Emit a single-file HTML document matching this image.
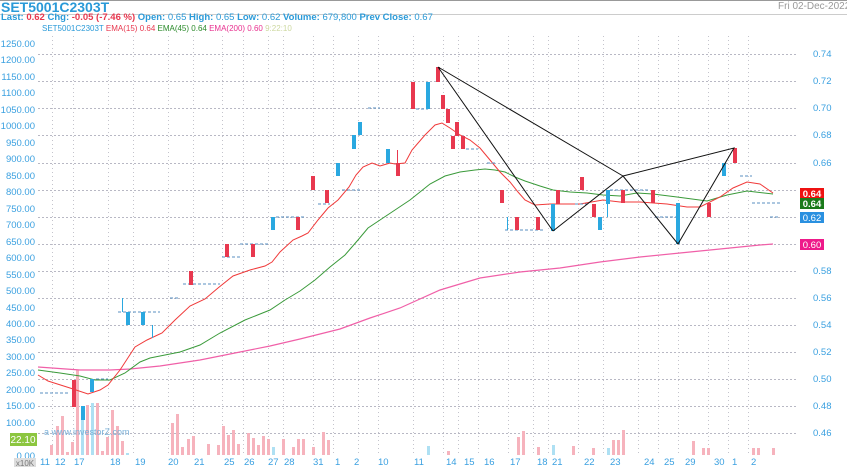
<!DOCTYPE html>
<html><head><meta charset="utf-8"><style>
body{margin:0;background:#fff;width:847px;height:467px;overflow:hidden;font-family:"Liberation Sans",sans-serif}
svg{position:absolute;left:0;top:0}
</style></head><body>
<svg width="847" height="467" xmlns="http://www.w3.org/2000/svg" font-family="Liberation Sans, sans-serif">
<line x1="0" y1="0.5" x2="847" y2="0.5" stroke="#999"/>
<text x="1" y="12" font-size="14" fill="#2a9ad8" font-weight="bold">SET5001C2303T</text>
<text x="778" y="9" font-size="10" fill="#999">Fri 02-Dec-2022 16:0</text>
<line x1="0" y1="14.5" x2="847" y2="14.5" stroke="#ccc"/>
<text x="1" y="20" font-size="9.5" font-weight="bold"><tspan fill="#2a9ad8">Last: </tspan><tspan fill="#e8384f">0.62 </tspan><tspan fill="#2a9ad8">Chg: </tspan><tspan fill="#e8384f">-0.05 (-7.46 %)</tspan><tspan fill="#2a9ad8">  Open: </tspan><tspan fill="#2a9ad8" font-weight="normal">0.65 </tspan><tspan fill="#2a9ad8">High: </tspan><tspan fill="#2a9ad8" font-weight="normal">0.65 </tspan><tspan fill="#2a9ad8">Low: </tspan><tspan fill="#2a9ad8" font-weight="normal">0.62 </tspan><tspan fill="#2a9ad8">Volume: </tspan><tspan fill="#2a9ad8" font-weight="normal">679,800  </tspan><tspan fill="#2a9ad8">Prev Close: </tspan><tspan fill="#2a9ad8" font-weight="normal">0.67</tspan></text>
<text x="42" y="31" font-size="8"><tspan fill="#2a9ad8">SET5001C2303T  </tspan><tspan fill="#e8384f">EMA(15)  0.64  </tspan><tspan fill="#2a8a2a">EMA(45)  0.64  </tspan><tspan fill="#e8308f">EMA(200)  0.60  </tspan><tspan fill="#cdd8a0">9:22:10</tspan></text>
<g stroke="#b8b8c4" stroke-dasharray="2,2" stroke-width="1">
<line x1="38" y1="54.5" x2="797" y2="54.5"/><line x1="38" y1="81.5" x2="797" y2="81.5"/><line x1="38" y1="108.5" x2="797" y2="108.5"/><line x1="38" y1="135.5" x2="797" y2="135.5"/><line x1="38" y1="163.5" x2="797" y2="163.5"/><line x1="38" y1="190.5" x2="797" y2="190.5"/><line x1="38" y1="217.5" x2="797" y2="217.5"/><line x1="38" y1="244.5" x2="797" y2="244.5"/><line x1="38" y1="271.5" x2="797" y2="271.5"/><line x1="38" y1="298.5" x2="797" y2="298.5"/><line x1="38" y1="325.5" x2="797" y2="325.5"/><line x1="38" y1="352.5" x2="797" y2="352.5"/><line x1="38" y1="379.5" x2="797" y2="379.5"/><line x1="38" y1="406.5" x2="797" y2="406.5"/><line x1="38" y1="433.5" x2="797" y2="433.5"/>
</g>
<g stroke="#c4c4cc" stroke-dasharray="1,3" stroke-width="1">
<line x1="52.5" y1="36" x2="52.5" y2="455"/><line x1="73.5" y1="36" x2="73.5" y2="455"/><line x1="108.5" y1="36" x2="108.5" y2="455"/><line x1="133.5" y1="36" x2="133.5" y2="455"/><line x1="168.5" y1="36" x2="168.5" y2="455"/><line x1="193.5" y1="36" x2="193.5" y2="455"/><line x1="222.5" y1="36" x2="222.5" y2="455"/><line x1="243.5" y1="36" x2="243.5" y2="455"/><line x1="268.5" y1="36" x2="268.5" y2="455"/><line x1="283.5" y1="36" x2="283.5" y2="455"/><line x1="313.5" y1="36" x2="313.5" y2="455"/><line x1="333.5" y1="36" x2="333.5" y2="455"/><line x1="358.5" y1="36" x2="358.5" y2="455"/><line x1="378.5" y1="36" x2="378.5" y2="455"/><line x1="413.5" y1="36" x2="413.5" y2="455"/><line x1="443.5" y1="36" x2="443.5" y2="455"/><line x1="458.5" y1="36" x2="458.5" y2="455"/><line x1="478.5" y1="36" x2="478.5" y2="455"/><line x1="508.5" y1="36" x2="508.5" y2="455"/><line x1="533.5" y1="36" x2="533.5" y2="455"/><line x1="548.5" y1="36" x2="548.5" y2="455"/><line x1="578.5" y1="36" x2="578.5" y2="455"/><line x1="603.5" y1="36" x2="603.5" y2="455"/><line x1="638.5" y1="36" x2="638.5" y2="455"/><line x1="658.5" y1="36" x2="658.5" y2="455"/><line x1="678.5" y1="36" x2="678.5" y2="455"/><line x1="708.5" y1="36" x2="708.5" y2="455"/><line x1="728.5" y1="36" x2="728.5" y2="455"/><line x1="748.5" y1="36" x2="748.5" y2="455"/>
</g>
<g fill="#f6b3bd">
<rect x="50" y="445" width="3" height="10"/><rect x="56" y="426" width="3" height="29"/><rect x="61" y="416" width="3" height="39"/><rect x="66" y="452" width="3" height="3"/><rect x="71" y="442" width="3" height="13"/><rect x="76" y="370" width="3" height="85"/><rect x="86" y="405" width="3" height="50"/><rect x="96" y="403" width="3" height="52"/><rect x="101" y="451" width="3" height="4"/><rect x="106" y="437" width="3" height="18"/><rect x="111" y="410" width="3" height="45"/><rect x="116" y="426" width="3" height="29"/><rect x="121" y="441" width="3" height="14"/>
<rect x="171" y="423" width="3" height="32"/><rect x="176" y="414" width="3" height="41"/><rect x="181" y="447" width="3" height="8"/><rect x="187" y="439" width="3" height="16"/><rect x="192" y="436" width="3" height="19"/><rect x="207" y="444" width="3" height="11"/><rect x="217" y="445" width="3" height="10"/><rect x="222" y="426" width="3" height="29"/><rect x="227" y="435" width="3" height="20"/><rect x="232" y="430" width="3" height="25"/><rect x="237" y="444" width="3" height="11"/><rect x="247" y="433" width="3" height="22"/><rect x="252" y="438" width="3" height="17"/><rect x="257" y="445" width="3" height="10"/><rect x="262" y="436" width="3" height="19"/><rect x="267" y="439" width="3" height="16"/><rect x="282" y="439" width="3" height="16"/><rect x="292" y="447" width="3" height="8"/><rect x="297" y="439" width="3" height="16"/><rect x="302" y="439" width="3" height="16"/><rect x="312" y="447" width="3" height="8"/><rect x="322" y="432" width="3" height="23"/><rect x="327" y="440" width="3" height="15"/>
<rect x="447" y="451" width="3" height="4"/><rect x="517" y="437" width="3" height="18"/><rect x="522" y="431" width="3" height="24"/><rect x="537" y="447" width="3" height="8"/><rect x="572" y="446" width="3" height="9"/><rect x="592" y="448" width="3" height="7"/><rect x="612" y="440" width="3" height="15"/><rect x="617" y="440" width="3" height="15"/><rect x="622" y="430" width="3" height="25"/><rect x="692" y="441" width="3" height="14"/><rect x="702" y="448" width="3" height="7"/><rect x="707" y="448" width="3" height="7"/><rect x="752" y="448" width="3" height="7"/><rect x="757" y="448" width="3" height="7"/><rect x="772" y="448" width="3" height="7"/>
</g>
<g fill="#aee0f3">
<rect x="81" y="420" width="3" height="35"/><rect x="91" y="403" width="3" height="52"/><rect x="126" y="453" width="3" height="2"/><rect x="272" y="447" width="3" height="8"/><rect x="427" y="446" width="3" height="9"/><rect x="552" y="445" width="3" height="10"/><rect x="607" y="448" width="3" height="7"/>
</g>
<polyline fill="none" stroke="#f060a8" stroke-width="1.2" points="38,367 80,370 110,370 130,369 160,366 200,360 225,355 270,346 300,339 340,329 370,318 400,308 440,290 480,278 520,272 560,268 600,262 640,257 680,253 720,249 760,245 773,244"/>
<polyline fill="none" stroke="#3a9a3a" stroke-width="1" points="38,370 60,373 80,376 95,380 110,380 125,373 140,362 150,358 165,355 180,352 200,345 220,333 245,320 270,310 285,300 300,291 315,280 330,267 345,255 358,240 368,228 380,220 395,210 410,200 420,192 430,184 445,176 460,172 475,170 485,169 495,170 505,172 515,177 525,181 540,186 553,190 570,192 587,193 603,195 620,196 637,193 653,194 677,197 707,201 727,195 747,191 773,194"/>
<polyline fill="none" stroke="#f03a3a" stroke-width="1" points="38,375 48,381 70,388 88,394 100,390 108,385 120,370 135,347 147,340 162,333 175,320 190,306 205,299 218,288 233,276 250,270 265,266 272,262 280,252 293,240 302,236 308,233 318,220 328,208 338,200 349,187 356,175 363,167 372,163 380,166 390,163 395,164 405,163 412,150 425,135 435,125 442,123 450,128 460,135 470,140 480,148 490,160 500,172 510,182 518,192 525,200 535,205 550,204 580,204 603,200 620,202 640,202 667,204 687,207 700,207 720,197 733,188 747,182 760,184 773,193"/>
<g stroke="#5a8fc0" stroke-width="1" stroke-dasharray="3,2">
<line x1="40" y1="393" x2="68" y2="393"/><line x1="96" y1="379" x2="108" y2="379"/><line x1="118" y1="312" x2="140" y2="312"/><line x1="138" y1="312" x2="160" y2="312"/><line x1="170" y1="298" x2="180" y2="298"/><line x1="183" y1="284" x2="220" y2="284"/><line x1="222" y1="257" x2="242" y2="257"/><line x1="240" y1="244" x2="268" y2="244"/><line x1="276" y1="217" x2="305" y2="217"/><line x1="318" y1="204" x2="330" y2="204"/><line x1="342" y1="190" x2="360" y2="190"/><line x1="368" y1="108" x2="380" y2="108"/><line x1="416" y1="109" x2="428" y2="109"/><line x1="466" y1="149" x2="478" y2="149"/><line x1="487" y1="163" x2="496" y2="163"/><line x1="505" y1="230" x2="545" y2="230"/><line x1="575" y1="204" x2="590" y2="204"/><line x1="610" y1="190" x2="650" y2="190"/><line x1="655" y1="217" x2="680" y2="217"/><line x1="740" y1="176" x2="752" y2="176"/><line x1="752" y1="203" x2="780" y2="203"/><line x1="770" y1="217" x2="778" y2="217"/>
</g>
<g fill="#e8384f">
<rect x="72" y="380" width="4" height="27"/><rect x="189" y="271" width="4" height="14"/><rect x="225" y="244" width="4" height="13"/><rect x="251" y="244" width="4" height="13"/><rect x="296" y="217" width="4" height="13"/><rect x="311" y="176" width="4" height="14"/><rect x="325" y="190" width="4" height="13"/><rect x="396" y="163" width="4" height="13"/><rect x="397" y="150" width="1" height="26"/>
<rect x="411" y="82" width="4" height="27"/><rect x="436" y="67" width="4" height="15"/><rect x="441" y="95" width="4" height="14"/><rect x="446" y="109" width="4" height="14"/><rect x="451" y="136" width="4" height="13"/><rect x="455" y="122" width="4" height="14"/><rect x="461" y="136" width="4" height="13"/><rect x="500" y="190" width="4" height="13"/><rect x="515" y="217" width="4" height="13"/><rect x="536" y="217" width="4" height="13"/><rect x="556" y="190" width="4" height="14"/><rect x="580" y="177" width="4" height="13"/><rect x="592" y="204" width="4" height="13"/><rect x="621" y="190" width="4" height="13"/><rect x="651" y="190" width="4" height="13"/><rect x="707" y="203" width="4" height="14"/><rect x="733" y="148" width="4" height="15"/>
</g>
<g fill="#2aa8e0">
<rect x="81" y="406" width="4" height="14"/><rect x="90" y="379" width="4" height="13"/><rect x="126" y="312" width="4" height="13"/><rect x="141" y="312" width="4" height="13"/><rect x="152" y="325" width="1" height="13"/><rect x="122" y="298" width="1" height="14"/><rect x="271" y="217" width="4" height="13"/><rect x="336" y="163" width="4" height="13"/><rect x="352" y="135" width="4" height="14"/><rect x="358" y="122" width="4" height="13"/><rect x="386" y="149" width="4" height="14"/><rect x="426" y="82" width="4" height="27"/><rect x="507" y="217" width="1" height="13"/><rect x="551" y="204" width="4" height="27"/><rect x="598" y="217" width="4" height="13"/><rect x="606" y="190" width="4" height="14"/><rect x="607" y="190" width="1" height="27"/><rect x="676" y="203" width="4" height="41"/><rect x="722" y="163" width="4" height="13"/>
</g>
<g stroke="#111" stroke-width="1" fill="none">
<polyline points="553,231 438,67 623,176 553,231"/><polyline points="623,176 678,244 734,148 623,176"/>
</g>
<g font-size="9.5" fill="#3aa0e0" text-anchor="end">
<text x="35" y="47">1250.00</text><text x="35" y="63">1200.00</text><text x="35" y="80">1150.00</text><text x="35" y="96">1100.00</text><text x="35" y="113">1050.00</text><text x="35" y="129">1000.00</text><text x="35" y="146">950.00</text><text x="35" y="162">900.00</text><text x="35" y="179">850.00</text><text x="35" y="195">800.00</text><text x="35" y="212">750.00</text><text x="35" y="228">700.00</text><text x="35" y="245">650.00</text><text x="35" y="261">600.00</text><text x="35" y="278">550.00</text><text x="35" y="294">500.00</text><text x="35" y="311">450.00</text><text x="35" y="327">400.00</text><text x="35" y="343">350.00</text><text x="35" y="360">300.00</text><text x="35" y="376">250.00</text><text x="35" y="393">200.00</text><text x="35" y="409">150.00</text><text x="35" y="426">100.00</text><text x="35" y="442">50.00</text><text x="35" y="459">0.00</text>
</g>
<rect x="10" y="433" width="27" height="13" fill="#8cc63f"/><text x="23" y="443" font-size="10" fill="#fff" text-anchor="middle">22.10</text>
<rect x="14" y="458" width="22" height="9" fill="#ddd"/><text x="25" y="466" font-size="8" fill="#777" text-anchor="middle">x10K</text>
<text x="44" y="435" font-size="9" fill="#7ab0d8">a www.investorZ.com</text>
<g font-size="9.5" fill="#3aa0e0">
<text x="813" y="57">0.74</text><text x="813" y="84">0.72</text><text x="813" y="111">0.70</text><text x="813" y="138">0.68</text><text x="813" y="166">0.66</text><text x="813" y="274">0.58</text><text x="813" y="301">0.56</text><text x="813" y="328">0.54</text><text x="813" y="355">0.52</text><text x="813" y="382">0.50</text><text x="813" y="409">0.48</text><text x="813" y="436">0.46</text>
</g>
<rect x="800" y="188" width="24" height="11" fill="#ee1111"/><text x="812" y="197" font-size="9.5" fill="#fff" font-weight="bold" text-anchor="middle">0.64</text>
<rect x="800" y="198" width="24" height="11" fill="#1a7a1a"/><text x="812" y="207" font-size="9.5" fill="#fff" font-weight="bold" text-anchor="middle">0.64</text>
<rect x="800" y="212" width="24" height="11" fill="#2a90e0"/><text x="812" y="221" font-size="9.5" fill="#fff" text-anchor="middle">0.62</text>
<rect x="800" y="239" width="24" height="11" fill="#ee1a8a"/><text x="812" y="248" font-size="9.5" fill="#fff" text-anchor="middle">0.60</text>
<g font-size="9.5" fill="#3aa0e0">
<text x="40" y="465">11</text><text x="55" y="465">12</text><text x="74" y="465">17</text><text x="110" y="465">18</text><text x="135" y="465">19</text><text x="168" y="465">20</text><text x="194" y="465">21</text><text x="224" y="465">25</text><text x="244" y="465">26</text><text x="268" y="465">27</text><text x="284" y="465">28</text><text x="313" y="465">31</text><text x="335" y="465">1</text><text x="354" y="465">2</text><text x="378" y="465">10</text><text x="414" y="465">11</text><text x="446" y="465">14</text><text x="464" y="465">15</text><text x="484" y="465">16</text><text x="510" y="465">17</text><text x="537" y="465">18</text><text x="552" y="465">21</text><text x="584" y="465">22</text><text x="610" y="465">23</text><text x="644" y="465">24</text><text x="664" y="465">25</text><text x="685" y="465">29</text><text x="714" y="465">30</text><text x="732" y="465">1</text><text x="751" y="465">2</text>
</g>
</svg>
</body></html>
